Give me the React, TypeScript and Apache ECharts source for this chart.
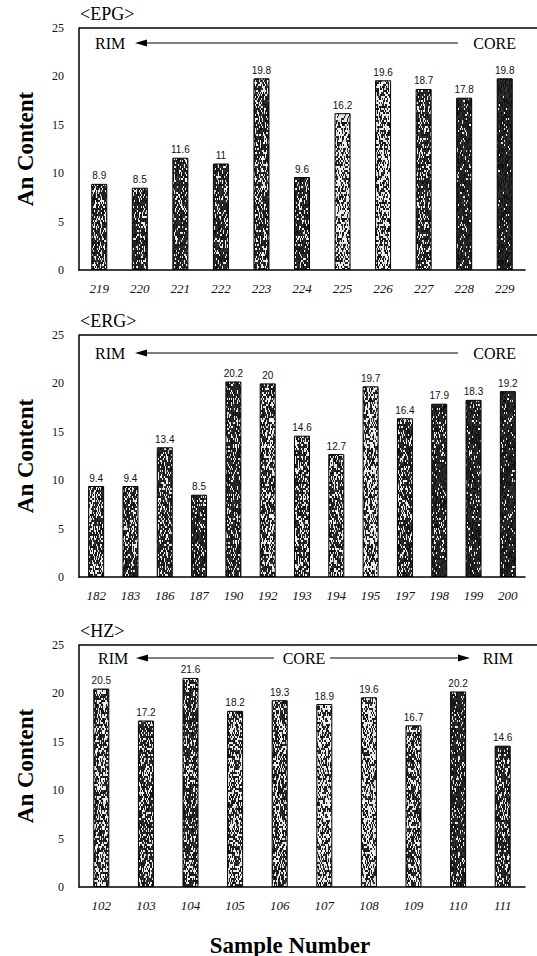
import React, { useEffect, useRef } from "react";
import * as echarts from "echarts";

const epgCategories = ["219", "220", "221", "222", "223", "224", "225", "226", "227", "228", "229"];
const epgValues = [8.9, 8.5, 11.6, 11, 19.8, 9.6, 16.2, 19.6, 18.7, 17.8, 19.8];
const epgShades = [74, 58, 58, 48, 72, 58, 138, 128, 60, 26, 14];

const ergCategories = ["182", "183", "186", "187", "190", "192", "193", "194", "195", "197", "198", "199", "200"];
const ergValues = [9.4, 9.4, 13.4, 8.5, 20.2, 20, 14.6, 12.7, 19.7, 16.4, 17.9, 18.3, 19.2];
const ergShades = [90, 74, 72, 40, 60, 88, 90, 90, 122, 72, 40, 24, 22];

const hzCategories = ["102", "103", "104", "105", "106", "107", "108", "109", "110", "111"];
const hzValues = [20.5, 17.2, 21.6, 18.2, 19.3, 18.9, 19.6, 16.7, 20.2, 14.6];
const hzShades = [106, 90, 74, 106, 90, 138, 138, 106, 42, 58];

const panelTitles = ["<EPG>", "<ERG>", "<HZ>"];
const yMin = 0;
const yMax = 25;
const yInterval = 5;

const SERIF = "'Liberation Serif', 'Times New Roman', serif";
const SANS = "'Liberation Sans', Arial, sans-serif";

const panels = [
  { cats: epgCategories, vals: epgValues, shades: epgShades, top: 28 },
  { cats: ergCategories, vals: ergValues, shades: ergShades, top: 335 },
  { cats: hzCategories, vals: hzValues, shades: hzShades, top: 645 },
];
const GRID_LEFT = 79;
const GRID_W = 446;
const GRID_H = 242;

// deterministic speckle texture (decoration only, not data)
function makeTexture(shade: number, seed: number): any {
  const w = 16, h = 96;
  const c = document.createElement("canvas");
  c.width = w;
  c.height = h;
  const ctx = c.getContext("2d");
  if (!ctx) return `rgb(${shade},${shade},${shade})`;
  const img = ctx.createImageData(w, h);
  let a = (seed * 2654435761) >>> 0;
  const rnd = () => {
    a = (a + 0x6d2b79f5) >>> 0;
    let t = a;
    t = Math.imul(t ^ (t >>> 15), t | 1);
    t ^= t + Math.imul(t ^ (t >>> 7), t | 61);
    return ((t ^ (t >>> 14)) >>> 0) / 4294967296;
  };
  const p = Math.min(0.6, (shade / 255) * 1.0);
  for (let y = 0; y < h; y += 2) {
    for (let x = 0; x < w; x++) {
      const v = rnd() < p ? 215 + rnd() * 40 : 10 + rnd() * 45;
      for (let dy = 0; dy < 2; dy++) {
        const k = ((y + dy) * w + x) * 4;
        img.data[k] = v;
        img.data[k + 1] = v;
        img.data[k + 2] = v;
        img.data[k + 3] = 255;
      }
    }
  }
  ctx.putImageData(img, 0, 0);
  return { image: c, repeat: "repeat" };
}

function arrowHead(tipX: number, y: number, dir: number) {
  return {
    type: "polygon",
    shape: {
      points: [
        [tipX, y],
        [tipX + dir * 12, y - 3.5],
        [tipX + dir * 12, y + 3.5],
      ],
    },
    style: { fill: "#000" },
  };
}
function hline(x1: number, x2: number, y: number, w = 1) {
  return { type: "line", shape: { x1, y1: y, x2, y2: y }, style: { stroke: "#000", lineWidth: w } };
}
function label(text: string, x: number, y: number, align = "left", size = 16) {
  return {
    type: "text",
    x,
    y,
    style: { text, fill: "#000", font: `${size}px ${SERIF}`, textAlign: align, textVerticalAlign: "middle" },
  };
}

export default function App() {
  const ref = useRef<HTMLDivElement>(null);
  useEffect(() => {
    if (!ref.current) return;
    const chart = echarts.init(ref.current, null, { renderer: "svg" });

    const grids = panels.map((p) => ({ left: GRID_LEFT, top: p.top, width: GRID_W, height: GRID_H }));
    const xAxes = panels.map((p, i) => ({
      type: "category",
      gridIndex: i,
      data: p.cats,
      axisLine: { show: true, lineStyle: { color: "#000", width: 1.5 } },
      axisTick: { show: false },
      axisLabel: { fontFamily: SERIF, fontStyle: "italic", fontSize: 13, color: "#111", margin: 12 },
    }));
    const yAxes = panels.map((p, i) => ({
      type: "value",
      gridIndex: i,
      min: yMin,
      max: yMax,
      interval: yInterval,
      name: "An Content",
      nameLocation: "middle",
      nameGap: 42,
      nameTextStyle: { fontFamily: SERIF, fontWeight: "bold", fontSize: 23, color: "#000" },
      axisLine: { show: true, lineStyle: { color: "#000", width: 1.5 } },
      axisTick: { show: false },
      splitLine: { show: false },
      axisLabel: { fontFamily: SERIF, fontSize: 12, color: "#111", margin: 15 },
    }));
    const series = panels.map((p, i) => ({
      type: "bar",
      xAxisIndex: i,
      yAxisIndex: i,
      barWidth: 16,
      data: p.vals.map((v, j) => ({
        value: v,
        itemStyle: { color: makeTexture(p.shades[j], i * 31 + j * 7 + 3), borderColor: "#000", borderWidth: 1 },
      })),
      label: { show: true, position: "top", distance: 3, fontFamily: SANS, fontSize: 10, color: "#111" },
    }));

    const graphics: any[] = [];
    panels.forEach((p, i) => {
      graphics.push(label(panelTitles[i], 80, p.top - 14, "left", 18));
      graphics.push(hline(GRID_LEFT, 537, p.top, 1.5));
    });
    // Panel 1 & 2: RIM <---- CORE
    [43, 353].forEach((y) => {
      graphics.push(label("RIM", 95, y, "left", 16));
      graphics.push(arrowHead(135, y, 1));
      graphics.push(hline(147, 458, y));
      graphics.push(label("CORE", 516, y, "right", 16));
    });
    // Panel 3: RIM <-- CORE --> RIM
    const y3 = 658;
    graphics.push(label("RIM", 98, y3, "left", 16));
    graphics.push(arrowHead(136, y3, 1));
    graphics.push(hline(148, 274, y3));
    graphics.push(label("CORE", 304, y3, "center", 16));
    graphics.push(hline(330, 458, y3));
    graphics.push(arrowHead(470, y3, -1));
    graphics.push(label("RIM", 513, y3, "right", 16));
    graphics.push({
      type: "text",
      x: 290,
      y: 945,
      style: {
        text: "Sample Number",
        fill: "#000",
        font: `bold 23px ${SERIF}`,
        textAlign: "center",
        textVerticalAlign: "middle",
      },
    });

    chart.setOption({
      animation: false,
      backgroundColor: "#fff",
      grid: grids,
      xAxis: xAxes,
      yAxis: yAxes,
      series,
      graphic: graphics,
    });
    return () => chart.dispose();
  }, []);
  return <div ref={ref} style={{ position: "fixed", left: 0, top: 0, width: 537, height: 956 }} />;
}
